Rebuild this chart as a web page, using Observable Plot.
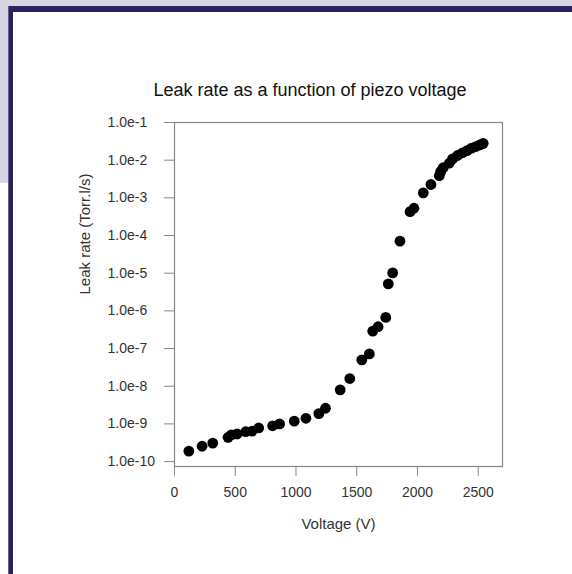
<!DOCTYPE html>
<html>
<head>
<meta charset="utf-8">
<script src="https://cdn.jsdelivr.net/npm/d3@7"></script>
<script src="https://cdn.jsdelivr.net/npm/@observablehq/plot@0.6"></script>
<style>
  html, body { margin: 0; padding: 0; background: #fff; }
  body { width: 572px; height: 574px; position: relative; overflow: hidden; font-family: "Liberation Sans", Arial, sans-serif; }
  .gtop { position: absolute; left: 0; top: 0; width: 572px; height: 6px; background: #d6d6e2; }
  .gleft { position: absolute; left: 0; top: 0; width: 8px; height: 183px; background: #d6d6e2; }
  .ntop { position: absolute; left: 8px; top: 6px; width: 564px; height: 6px; background: #2e2160; }
  .nleft { position: absolute; left: 8px; top: 6px; width: 5px; height: 568px; background: #2e2160; border-left: 1px solid #6a5f92; box-sizing: border-box; }
  #title { position: absolute; left: 0; width: 620px; top: 80px; text-align: center; font-size: 18px; color: #111; white-space: nowrap; }
  #chart { position: absolute; left: 0; top: 106px; }
</style>
</head>
<body>
<div class="gtop"></div>
<div class="gleft"></div>
<div class="ntop"></div>
<div class="nleft"></div>
<div id="title">Leak rate as a function of piezo voltage</div>
<div id="chart"></div>
<script>
const voltage = [118, 227, 315, 441, 468, 515, 586, 638, 693, 808, 865, 986, 1082, 1188, 1243, 1364, 1443, 1542, 1604, 1632, 1676, 1739, 1760, 1796, 1856, 1939, 1971, 2048, 2111, 2180, 2191, 2212, 2262, 2289, 2330, 2371, 2409, 2445, 2481, 2514, 2541];
const leakRate = [1.9e-10, 2.55e-10, 3.1e-10, 4.4e-10, 5.1e-10, 5.4e-10, 6.2e-10, 6.4e-10, 7.8e-10, 8.9e-10, 1.0e-9, 1.18e-9, 1.41e-9, 1.88e-9, 2.6e-9, 8.0e-9, 1.6e-8, 5.0e-8, 7.2e-8, 2.9e-7, 3.8e-7, 6.7e-7, 5.2e-6, 1.02e-5, 7.1e-5, 4.3e-4, 5.3e-4, 1.36e-3, 2.26e-3, 3.9e-3, 5.0e-3, 6.3e-3, 8.3e-3, 1.08e-2, 1.33e-2, 1.57e-2, 1.8e-2, 2.08e-2, 2.3e-2, 2.55e-2, 2.8e-2];
const xTicks = [0, 500, 1000, 1500, 2000, 2500];
const yTicks = [1e-1, 1e-2, 1e-3, 1e-4, 1e-5, 1e-6, 1e-7, 1e-8, 1e-9, 1e-10];
const xLabel = "Voltage (V)";
const yLabel = "Leak rate (Torr.l/s)";

const data = voltage.map((v, i) => ({v, r: leakRate[i]}));
const fmtY = d => "1.0e" + Math.round(Math.log10(d));

const chart = Plot.plot({
  width: 572,
  height: 440,
  marginTop: 16,
  marginBottom: 80,
  marginLeft: 174,
  marginRight: 70,
  style: {background: "transparent", fontFamily: "'Liberation Sans', Arial, sans-serif", overflow: "visible"},
  x: {domain: [0, 2700]},
  y: {type: "log", domain: [7.4e-11, 0.1]},
  marks: [
    Plot.frame({stroke: "#888", strokeWidth: 1.2}),
    Plot.axisX({ticks: xTicks, tickSize: 10, tickPadding: 11, tickFormat: d => String(d), fontSize: 14, color: "#333", stroke: "#888", label: null}),
    Plot.axisY({ticks: yTicks, tickSize: 10, tickPadding: 57, textAnchor: "start", tickFormat: fmtY, fontSize: 14, color: "#333", stroke: "#888", label: null}),
    Plot.dot(data, {x: "v", y: "r", r: 5.4, fill: "#000", stroke: "none"}),
    Plot.text([xLabel], {frameAnchor: "bottom", dy: 58, lineAnchor: "middle", text: d => d, fontSize: 15, fill: "#333"}),
    Plot.text([yLabel], {frameAnchor: "left", dx: -89, rotate: -90, lineAnchor: "middle", text: d => d, fontSize: 15, fill: "#333"})
  ]
});
document.getElementById("chart").appendChild(chart);
</script>
</body>
</html>
